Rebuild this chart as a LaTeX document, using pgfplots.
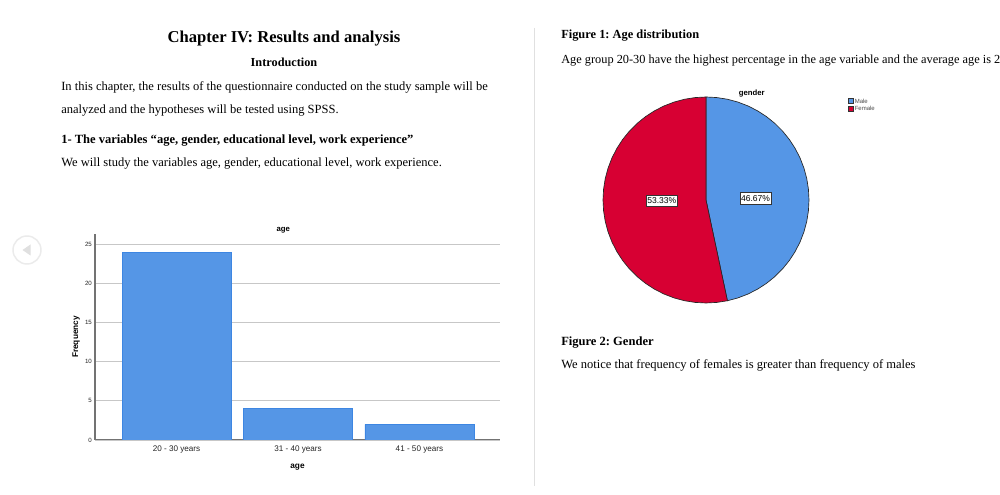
\documentclass[border=0pt]{standalone}
\usepackage{fontspec}
\usepackage{pgfplots}
\usepgfplotslibrary{polar}
\pgfplotsset{compat=1.18}
\setmainfont{Liberation Serif}
\newfontfamily\arial{Liberation Sans}
\definecolor{barblue}{HTML}{5596E6}
\definecolor{baredge}{HTML}{3D86E2}
\definecolor{piered}{HTML}{D70033}
\frenchspacing
\newcommand{\T}[4]{\node[anchor=#4,inner sep=0pt,font=\fontsize{#1}{#1}\selectfont] at (#2) {#3};}
\begin{document}
\begin{tikzpicture}
\useasboundingbox (0,0) rectangle (750pt,371.25pt);
\clip (0,0) rectangle (750pt,371.25pt);
\fill[white] (0,0) rectangle (750pt,371.25pt);
\begin{scope}[x=0.75pt,y=-0.75pt,yshift=371.25pt]
% page text
\T{12.45pt}{284,39}{\textbf{Chapter IV: Results and analysis}}{center}
\T{9.2pt}{284,62.5}{\textbf{Introduction}}{center}
\T{9.4pt}{61,91}{In this chapter, the results of the questionnaire conducted on the study sample will be}{base west}
\T{9.4pt}{61,114}{analyzed and the hypotheses will be tested using SPSS.}{base west}
\T{9.4pt}{61,144}{\textbf{1- The variables “age, gender, educational level, work experience”}}{base west}
\T{9.4pt}{61,167}{We will study the variables age, gender, educational level, work experience.}{base west}
\T{9.3pt}{561,39}{\textbf{Figure 1: Age distribution}}{base west}
\T{9.25pt}{561,64}{Age group 20-30 have the highest percentage in the age variable and the average age is 2}{base west}
\T{9.4pt}{561,346}{\textbf{Figure 2: Gender}}{base west}
\T{9.4pt}{561,369}{We notice that frequency of females is greater than frequency of males}{base west}
% divider
\draw[black!12,line width=0.75pt] (534,28) -- (534,486);
% nav button
\draw[black!8,line width=1.1pt] (27,250) circle (10.5pt);
\fill[black!12] (22.5,250) -- (30.5,244.5) -- (30.5,255.5) -- cycle;
\end{scope}
% bar chart
\begin{axis}[
  at={(71.25pt,41.25pt)},anchor=south west,
  scale only axis,width=303.75pt,height=154.5pt,
  xmin=-0.671,xmax=2.663,ymin=0,ymax=26.3,
  xtick={0,1,2},xticklabels={20 - 30 years,31 - 40 years,41 - 50 years},
  ytick={0,5,10,15,20,25},
  ymajorgrids,
  grid style={black!22,line width=0.8pt},
  axis x line=bottom,axis y line=left,
  axis line style={black!55,line width=0.75pt,-},
  major tick length=0pt,
  ticklabel style={font=\arial\fontsize{6.1pt}{7pt}\selectfont,text=black!85},
  yticklabel style={font=\arial\fontsize{4.6pt}{5pt}\selectfont,text=black!85,xshift=1.2pt},
  xticklabel style={yshift=-1pt},
  /pgf/number format/assume math mode=true,
  xlabel={\textbf{age}},
  ylabel={\textbf{Frequency}},
  label style={font=\arial\fontsize{6.2pt}{7pt}\selectfont},
  xlabel style={yshift=-1pt},
  ylabel style={yshift=-2.95pt},
  title={\textbf{age}},
  title style={font=\arial\fontsize{5.8pt}{6pt}\selectfont,at={(rel axis cs:0.465,1)},anchor=south,yshift=-9pt},
]
\addplot[ybar,bar width=81.75pt,fill=barblue,draw=baredge,line width=0.6pt] coordinates {(0,24)(1,4)(2,2)};
\end{axis}
% pie chart
\begin{polaraxis}[
  at={(529.5pt,221.25pt)},anchor=center,
  scale only axis,width=154.5pt,height=154.5pt,
  ymin=0,ymax=1,hide axis,clip=false,
]
\addplot[fill=barblue,draw=black!85,line width=0.5pt] coordinates {(0,0)(90,1)(84,1)(78,1)(72,1)(66,1)(60,1)(54,1)(48,1)(42,1)(36,1)(30,1)(24,1)(18,1)(12,1)(6,1)(0,1)(-6,1)(-12,1)(-18,1)(-24,1)(-30,1)(-36,1)(-42,1)(-48,1)(-54,1)(-60,1)(-66,1)(-72,1)(-78,1)} -- cycle;
\addplot[fill=piered,draw=black!85,line width=0.5pt] coordinates {(0,0)(-78,1)(-84,1)(-90,1)(-96,1)(-102,1)(-108,1)(-114,1)(-120,1)(-126,1)(-132,1)(-138,1)(-144,1)(-150,1)(-156,1)(-162,1)(-168,1)(-174,1)(-180,1)(-186,1)(-192,1)(-198,1)(-204,1)(-210,1)(-216,1)(-222,1)(-228,1)(-234,1)(-240,1)(-246,1)(-252,1)(-258,1)(-264,1)(-270,1)} -- cycle;
\end{polaraxis}
\begin{scope}[x=0.75pt,y=-0.75pt,yshift=371.25pt]
\node[draw=black!80,fill=white,line width=0.4pt,inner xsep=0.9pt,inner ysep=2.2pt,font=\arial\fontsize{6.4pt}{7pt}\selectfont] at (755.5,198.5) {46.67\%};
\node[draw=black!80,fill=white,line width=0.4pt,inner xsep=0.9pt,inner ysep=2.2pt,font=\arial\fontsize{6.4pt}{7pt}\selectfont] at (661.8,200.8) {53.33\%};
\node[font=\arial\fontsize{5.8pt}{6pt}\selectfont] at (751.7,93.5) {\textbf{gender}};
% legend
\filldraw[fill=barblue,draw=black!80,line width=0.3pt] (848,98.5) rectangle (853,103.5);
\filldraw[fill=piered,draw=black!80,line width=0.3pt] (848,106) rectangle (853,111);
\node[anchor=west,inner sep=0pt,text=black!70,font=\arial\fontsize{4.5pt}{5pt}\selectfont] at (854.5,101) {Male};
\node[anchor=west,inner sep=0pt,text=black!70,font=\arial\fontsize{4.5pt}{5pt}\selectfont] at (854.5,108.5) {Female};
\end{scope}
\end{tikzpicture}
\end{document}
